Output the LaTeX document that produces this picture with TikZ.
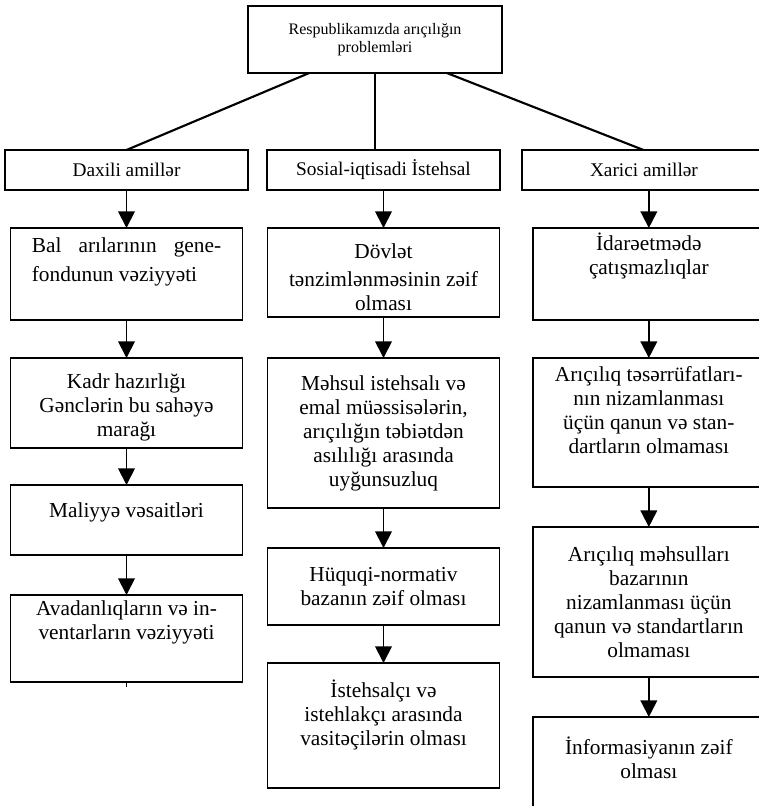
\documentclass[tikz,border=0pt]{standalone}
\usepackage{fontspec}
\setmainfont{Liberation Serif}
\usetikzlibrary{positioning,arrows.meta}
\tikzstyle{box}=[draw=black,line width=1.4pt,inner sep=0pt,outer sep=0pt]
\tikzstyle{head}=[box,minimum height=30pt,font=\fontsize{14.5}{17}\selectfont]
\tikzstyle{cell}=[box,font=\fontsize{16}{18}\selectfont]
\tikzstyle{arr}=[line width=1.4pt,-{Triangle[width=12.5pt,length=12.5pt]}]
\tikzstyle{link}=[line width=1.6pt]
\newcommand{\topcell}[3]{\parbox[c][#1][t]{174pt}{\centering\vspace*{#2}#3}}
\newcommand{\midcell}[2]{\parbox[c][#1][c]{174pt}{\centering #2}}

\begin{document}
\begin{tikzpicture}[x=0.75pt,y=-0.75pt]
  \useasboundingbox (0,0) rectangle (759,806);
  \clip (0,0) rectangle (759,806);

  \node[box,minimum width=190.5pt,minimum height=50.25pt,align=center,
    font=\fontsize{12}{14}\selectfont] (root) at (375,39.5)
    {Respublikamızda arıçılığın\\problemləri};

  \node[head,minimum width=182.25pt] (dax) at (126.5,170) {Daxili amillər};
  \node[head,minimum width=174.75pt] (soc) at (383.5,170) {Sosial-iqtisadi İstehsal};
  \node[head,minimum width=182.25pt] (xar) at (643.5,170)
    {\makebox[182.25pt][l]{\hspace{51pt}Xarici amillər}};

  \draw[link] (root.207) -- (dax.north);
  \draw[link] (root.south) -- (root.south |- soc.north);
  \draw[link] (root.335) -- (xar.north);

  % daxili
  \node[cell,below=28.5pt of dax] (bal) {\topcell{69pt}{7.5pt}{%
    \makebox[142pt][s]{Bal arılarının gene-}\\[3.5pt]
    \makebox[142pt][l]{fondunun vəziyyəti}}};
  \node[cell,below=28.5pt of bal] (kadr) {\topcell{67.5pt}{11.5pt}{%
    Kadr hazırlığı\\Gənclərin bu sahəyə\\marağı}};
  \node[cell,below=27.75pt of kadr] (mal) {\topcell{52.5pt}{13.5pt}{%
    Maliyyə vəsaitləri}};
  \node[cell,below=30pt of mal] (ava) {\topcell{65.25pt}{4pt}{%
    Avadanlıqların və in-\\ventarların vəziyyəti}};
  \coordinate[below=3.5pt of ava] (stub);

  \draw[arr] (dax) -- (bal);
  \draw[arr] (bal) -- (kadr);
  \draw[arr] (kadr) -- (mal);
  \draw[arr] (mal) -- (ava);
  \draw[line width=1.4pt] (ava) -- (stub);

  % sosial
  \node[cell,below=28.5pt of soc] (dov) {\topcell{66.75pt}{12pt}{%
    Dövlət\\[3pt]tənzimlənməsinin zəif\\olması}};
  \node[cell,below=30.75pt of dov] (meh) {\midcell{112.5pt}{%
    Məhsul istehsalı və\\emal müəssisələrin,\\arıçılığın təbiətdən\\asılılığı arasında\\uyğunsuzluq}};
  \node[cell,below=30pt of meh] (huq) {\midcell{57.75pt}{%
    Hüquqi-normativ\\bazanın zəif olması}};
  \node[cell,below=28.5pt of huq] (ist) {\topcell{93.75pt}{13pt}{%
    İstehsalçı və\\istehlakçı arasında\\vasitəçilərin olması}};

  \draw[arr] (soc.south -| dov.north) -- (dov.north);
  \draw[arr] (dov) -- (meh);
  \draw[arr] (meh) -- (huq);
  \draw[arr] (huq) -- (ist);

  % xarici
  \node[cell,below=28.5pt of xar,xshift=4pt] (ida) {\topcell{69pt}{4pt}{%
    İdarəetmədə\\çatışmazlıqlar}};
  \node[cell,below=28.5pt of ida] (tes) {\topcell{96.75pt}{6pt}{%
    Arıçılıq təsərrüfatları-\\nın nizamlanması\\üçün qanun və stan-\\dartların olmaması}};
  \node[cell,below=30pt of tes] (bzr) {\midcell{112.5pt}{%
    Arıçılıq məhsulları\\bazarının\\nizamlanması üçün\\qanun və standartların\\olmaması}};
  \node[cell,below=30pt of bzr] (inf) {\topcell{67.5pt}{15pt}{%
    İnformasiyanın zəif\\olması}};

  \draw[arr] (xar.south -| ida.north) -- (ida.north);
  \draw[arr] (ida) -- (tes);
  \draw[arr] (tes) -- (bzr);
  \draw[arr] (bzr) -- (inf);
\end{tikzpicture}
\end{document}
